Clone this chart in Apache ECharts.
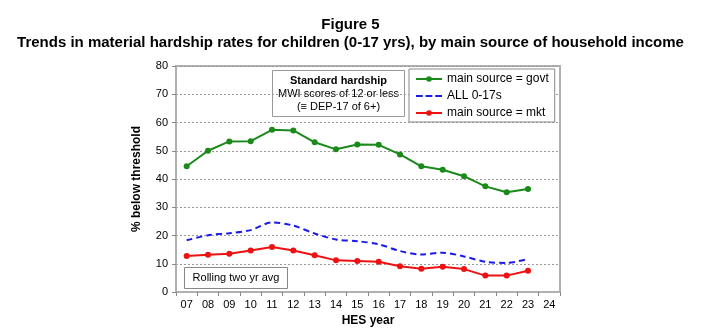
<!DOCTYPE html>
<html><head><meta charset="utf-8">
<script src="https://cdn.jsdelivr.net/npm/echarts@6/dist/echarts.min.js"></script>
<style>html,body{margin:0;padding:0;background:#fff}#c{width:701px;height:334px}</style>
</head><body><div id="c"></div>
<script>
const years = ['07','08','09','10','11','12','13','14','15','16','17','18','19','20','21','22','23','24'];
const govt = [44.5,50.0,53.3,53.4,57.4,57.2,53.0,50.5,52.2,52.1,48.7,44.5,43.3,41.0,37.4,35.3,36.5,null];
const all017 = [18.3,20.1,20.8,21.9,24.6,23.5,20.7,18.6,18.0,16.9,14.5,13.3,13.9,12.6,10.7,10.3,11.7,null];
const mkt = [12.7,13.2,13.5,14.7,15.9,14.7,13.0,11.2,11.0,10.7,9.1,8.2,8.9,8.1,5.8,5.8,7.5,null];
const yTicks = [0,10,20,30,40,50,60,70,80];

const ff = '"Liberation Sans", Arial, sans-serif';
const chart = echarts.init(document.getElementById('c'));
chart.setOption({
  animation: false,
  textStyle: {fontFamily: ff},
  title: [
    {text: 'Figure 5', left: 'center', top: 12, textStyle: {fontSize: 15, fontWeight: 'bold', color: '#000', fontFamily: ff}},
    {text: 'Trends in material hardship rates for children (0-17 yrs), by main source of household income', left: 'center', top: 30, textStyle: {fontSize: 15, fontWeight: 'bold', color: '#000', fontFamily: ff}}
  ],
  grid: {left: 176, right: 141, top: 66, bottom: 42, show: true, borderColor: '#b0b0b0', borderWidth: 2},
  legend: {
    orient: 'vertical', left: 409, top: 69, itemGap: 5, itemWidth: 26, itemHeight: 7,
    borderColor: '#888', borderWidth: 1, padding: [4, 6, 3, 6], backgroundColor: '#fff',
    textStyle: {fontSize: 12, color: '#000', fontFamily: ff, lineHeight: 12},
    data: [
      {name: 'main source = govt'},
      {name: 'ALL 0-17s', icon: 'path://M0,0h7v2h-7zM10,0h7v2h-7zM20,0h7v2h-7z'},
      {name: 'main source = mkt'}
    ]
  },
  xAxis: {
    type: 'category', data: years, boundaryGap: true,
    name: 'HES year', nameLocation: 'middle', nameGap: 22,
    nameTextStyle: {fontWeight: 'bold', fontSize: 12, color: '#000'},
    axisLine: {lineStyle: {color: '#b0b0b0', width: 2}},
    axisTick: {show: true, length: 4, lineStyle: {color: '#888'}},
    axisLabel: {fontSize: 11, color: '#000', margin: 7}
  },
  yAxis: {
    type: 'value', min: 0, max: 80, interval: 10,
    name: '% below threshold', nameLocation: 'middle', nameGap: 33,
    nameTextStyle: {fontWeight: 'bold', fontSize: 12, color: '#000'},
    axisLine: {show: true, lineStyle: {color: '#b0b0b0', width: 2}},
    axisTick: {show: true, length: 4, lineStyle: {color: '#888'}},
    axisLabel: {fontSize: 11, color: '#000', margin: 8, formatter: v => yTicks.includes(v) ? String(v) : ''},
    splitLine: {show: true, lineStyle: {color: '#999', type: [2, 2], width: 1}}
  },
  series: [
    {name: 'main source = govt', type: 'line', data: govt, color: '#1a8a1a', symbol: 'circle', symbolSize: 6,
     lineStyle: {width: 2}, itemStyle: {color: '#1a8a1a'}},
    {name: 'ALL 0-17s', type: 'line', data: all017, color: '#1a1aee', symbol: 'none', smooth: 0.3,
     lineStyle: {width: 2, type: [6, 4]}},
    {name: 'main source = mkt', type: 'line', data: mkt, color: '#ee1111', symbol: 'circle', symbolSize: 6,
     lineStyle: {width: 2}, itemStyle: {color: '#ee1111'}}
  ],
  graphic: [
    {type: 'group', left: 272, top: 70, z: 100, children: [
      {type: 'rect', shape: {x: 0, y: 0, width: 132, height: 46}, style: {fill: '#fff', stroke: '#999', lineWidth: 1}},
      {type: 'text', style: {x: 66, y: 5, text: 'Standard hardship', textAlign: 'center', font: 'bold 11px ' + ff, fill: '#000'}},
      {type: 'text', style: {x: 66, y: 18, text: 'MWI scores of 12 or less', textAlign: 'center', font: '11px ' + ff, fill: '#000'}},
      {type: 'text', style: {x: 66, y: 31, text: '(≡ DEP-17 of 6+)', textAlign: 'center', font: '11px ' + ff, fill: '#000'}}
    ]},
    {type: 'group', left: 184, top: 267, z: 100, children: [
      {type: 'rect', shape: {x: 0, y: 0, width: 103, height: 21}, style: {fill: '#fff', stroke: '#888', lineWidth: 1}},
      {type: 'text', style: {x: 51.5, y: 5, text: 'Rolling two yr avg', textAlign: 'center', font: '11px ' + ff, fill: '#000'}}
    ]}
  ]
});
</script></body></html>
